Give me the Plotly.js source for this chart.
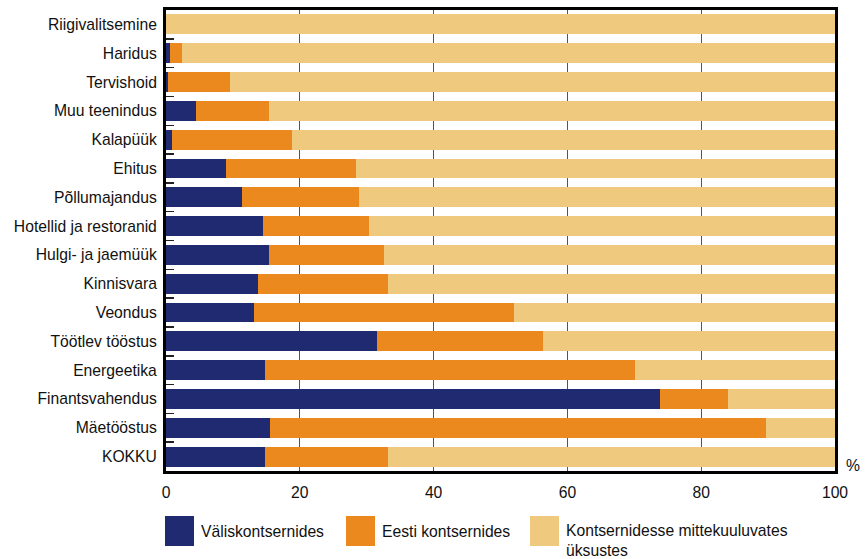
<!DOCTYPE html>
<html>
<head>
<meta charset="utf-8">
<script src="https://cdn.plot.ly/plotly-3.0.1.min.js"></script>
<style>html,body{margin:0;padding:0;background:#fff;}#chart{width:865px;height:559px;}</style>
</head>
<body>
<div id="chart"></div>
<script>
const categories = ["Riigivalitsemine","Haridus","Tervishoid","Muu teenindus","Kalapüük","Ehitus","Põllumajandus","Hotellid ja restoranid","Hulgi- ja jaemüük","Kinnisvara","Veondus","Töötlev tööstus","Energeetika","Finantsvahendus","Mäetööstus","KOKKU"];
const seriesNames = ["Väliskontsernides","Eesti kontsernides","Kontsernidesse mittekuuluvates<br>üksustes"];
const foreign = [0, 0.6, 0.3, 4.5, 0.95, 9.0, 11.4, 14.5, 15.4, 13.7, 13.1, 31.5, 14.8, 73.9, 15.6, 14.8];
const domesticCum = [0, 2.4, 9.5, 15.4, 18.9, 28.4, 28.9, 30.4, 32.6, 33.2, 52.0, 56.3, 70.1, 84.0, 89.7, 33.2];
const domestic = domesticCum.map((v,i)=> +(v - foreign[i]).toFixed(2));
const other = domesticCum.map(v => +(100 - v).toFixed(2));
const xTicks = [0,20,40,60,80,100];
const colors = ["#202a70","#eb881e","#efc97e"];

const FONT = '"Liberation Sans Narrow","Arial Narrow","Liberation Sans",Arial,sans-serif';
const FS = 15.7;
const W=865,H=559, L=166, R=835, T=10, B=471;
const px = x => (x-L)/(R-L);
const py = y => (B-y)/(B-T);

const vals = [foreign, domestic, other];
const traces = vals.map((v,i)=>({
  type:'bar', orientation:'h', y:categories, x:v, name:seriesNames[i],
  marker:{color:colors[i], line:{width:0}}, hoverinfo:'x+y'
}));

const shapes = [], annotations = [];
const legendX = [165, 346, 530];
for (let i=0;i<3;i++){
  shapes.push({type:'rect', xref:'paper', yref:'paper', x0:px(legendX[i]), x1:px(legendX[i]+29), y0:py(546), y1:py(516), fillcolor:colors[i], line:{width:0}});
  annotations.push({xref:'paper', yref:'paper', x:px(legendX[i]+34), y:py(i<2?531:520), xanchor:'left', yanchor:(i<2?'middle':'top'), align:'left', showarrow:false, text:seriesNames[i], font:{family:FONT,size:FS,color:'#111'}});
}
annotations.push({xref:'paper', yref:'paper', x:px(853), y:py(465), xanchor:'center', yanchor:'middle', showarrow:false, text:'%', font:{family:FONT,size:FS,color:'#111'}});

const layout = {
  width:W, height:H,
  margin:{l:L, r:W-R, t:T, b:H-B, pad:0},
  paper_bgcolor:'#fff', plot_bgcolor:'#fff',
  barmode:'stack', bargap:0.31, showlegend:false,
  font:{family:FONT, size:FS, color:'#111'},
  xaxis:{range:[0,100], tickvals:xTicks, ticktext:xTicks.map(String), showgrid:true, gridcolor:'#555', gridwidth:1,
    zeroline:false, showline:true, mirror:true, linecolor:'#000', linewidth:3, ticks:'outside', ticklen:5, tickcolor:'rgba(0,0,0,0)', fixedrange:true},
  yaxis:{type:'category', autorange:'reversed', showgrid:false, zeroline:false, showline:true, mirror:true, linecolor:'#000', linewidth:3,
    ticks:'inside', tickson:'boundaries', ticklen:8, tickwidth:1.5, tickcolor:'#222', ticklabelstandoff:3, fixedrange:true},
  shapes:shapes, annotations:annotations
};
Plotly.newPlot('chart', traces, layout, {displayModeBar:false, staticPlot:true});
</script>
</body>
</html>
